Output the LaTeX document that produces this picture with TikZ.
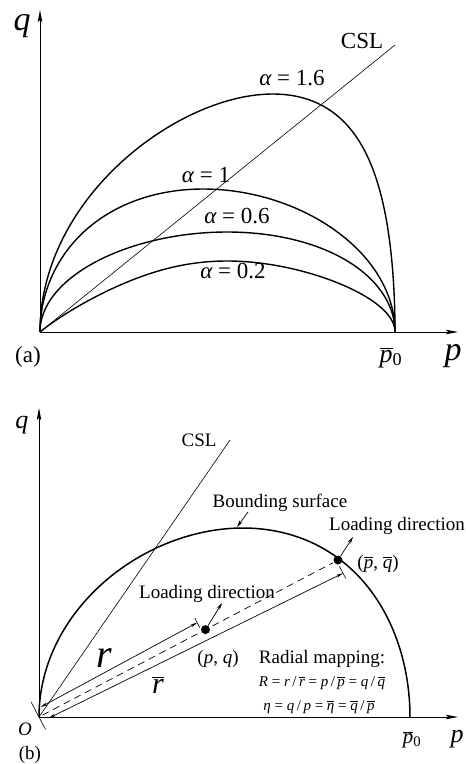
\documentclass[tikz,border=0pt]{standalone}
\usepackage{fontspec}
\setmainfont{Liberation Serif}
\newfontfamily\mi{Liberation Serif Italic}
\usetikzlibrary{arrows.meta}
\newcommand{\vi}[1]{{\mi #1}}
\newcommand{\ob}[1]{\ensuremath{\overline{\mbox{\mi #1}}}}
\begin{document}
\begin{tikzpicture}[x=1pt,y=-1pt,
  axis/.style={line width=0.9pt,-{Stealth[length=12pt,width=4.5pt,inset=2pt]}},
  curve/.style={line width=1.4pt},
  csl/.style={line width=0.6pt},
  dimline/.style={line width=0.7pt,{Stealth[length=7pt,width=3pt]}-{Stealth[length=7pt,width=3pt]}},
  tickline/.style={line width=0.6pt},
  radial/.style={line width=0.7pt,dash pattern=on 7pt off 5pt},
  pointer/.style={line width=0.7pt,-{Stealth[length=7pt,width=3.5pt]}},
  dot/.style={circle,fill=black,inner sep=0pt,minimum size=9pt},
  lbl/.style={inner sep=0pt,anchor=base},
  fa/.style={lbl,font=\fontsize{23}{23}\selectfont},
  fap/.style={lbl,font=\fontsize{26}{26}\selectfont},
  fabig/.style={lbl,font=\fontsize{34}{34}\selectfont},
  fb/.style={lbl,font=\fontsize{19}{19}\selectfont},
  fbp/.style={lbl,font=\fontsize{21}{21}\selectfont},
  fbax/.style={lbl,font=\fontsize{26}{26}\selectfont},
  feq/.style={lbl,font=\fontsize{15}{15}\selectfont},
  fr/.style={lbl,font=\fontsize{40}{40}\selectfont},
  frb/.style={lbl,font=\fontsize{30}{30}\selectfont}]
\useasboundingbox (0,0) rectangle (466,764);

% ---------------- panel (a) ----------------
\coordinate (Oa) at (40,332);
\coordinate (Ya) at (40,10);
\coordinate (Xa) at (458,332);
\coordinate (Ca) at (395,45);
\draw[axis] (Oa) -- (Ya);
\draw[axis] (Oa) -- (Xa);
\draw[csl] (Oa) -- (Ca);

\draw[curve] plot[domain=0:180,samples=150,variable=\t]
  ({40+355*((1-cos(\t))/2+0.156*sin(\t)*sin(\t))},{332-238*sin(\t)});
\draw[curve] plot[domain=0:180,samples=150,variable=\t]
  ({40+355*((1-cos(\t))/2-0.04*sin(\t)*sin(\t))},{332-143*sin(\t)});
\draw[curve] plot[domain=0:180,samples=150,variable=\t]
  ({40+355*((1-cos(\t))/2+0.027*sin(\t)*sin(\t))},{332-100*sin(\t)});
\draw[curve] plot[domain=0:180,samples=150,variable=\t]
  ({40+355*((1-cos(\t))/2+0.247*sin(\t)*(1+cos(\t))/2-0.0965*sin(\t)*sin(\t))},{332-71*sin(\t)});

\node[fabig] (qa) at (22,30) {\vi{q}};
\node[fabig] (pa) at (453,360) {\vi{p}};
\node[fap] (p0a) at (391,362) {\ob{p}\textsubscript{0}};
\node[fa] (la) at (28,362) {(a)};
\node[fa] (csla) at (362,48) {CSL};
\node[fa] (a16) at (292,85) {\vi{α} = 1.6};
\node[fa] (a10) at (206,182) {\vi{α} = 1};
\node[fa] (a06) at (237,223) {\vi{α} = 0.6};
\node[fa] (a02) at (233,278) {\vi{α} = 0.2};

% ---------------- panel (b) ----------------
\coordinate (Ob) at (39,717);
\coordinate (Yb) at (39,408);
\coordinate (Xb) at (458,717);
\coordinate (Cb) at (230,440);
\draw[axis] (Ob) -- (Yb);
\draw[axis] (Ob) -- (Xb);
\draw[csl] (Ob) -- (Cb);

\draw[curve,line width=1.5pt] plot[domain=0:180,samples=150,variable=\t]
  ({39+371*((1-cos(\t))/2+0.05*sin(\t)*sin(\t))},{717-189*sin(\t)});

% points on the radial line
\node[dot] (P) at (205.5,629.6) {};
\node[dot] (Pb) at (338,560) {};

% radial dashed line
\coordinate (R0) at (42.5,715.1);
\coordinate (R1) at (333,562.7);
\draw[radial] (R0) -- (R1);

% r dimension line
\coordinate (rs) at (40.6,707.1);
\coordinate (re) at (197.3,622.6);
\draw[dimline] (rs) -- (re);
\coordinate (t1a) at (200.0,628.0);
\coordinate (t1b) at (194.9,618.2);
\draw[tickline] (t1a) -- (t1b);

% r-bar dimension line
\coordinate (rbs) at (48.6,718.2);
\coordinate (rbe) at (343.0,573.2);
\draw[dimline] (rbs) -- (rbe);
\coordinate (t2a) at (339.3,566.1);
\coordinate (t2b) at (345.8,578.5);
\draw[tickline] (t2a) -- (t2b);

% tick at origin
\coordinate (t0a) at (31.1,702);
\coordinate (t0b) at (45.5,729.4);
\draw[tickline] (t0a) -- (t0b);

% loading directions
\coordinate (ld1) at (222,603);
\coordinate (ld2) at (353,537);
\draw[pointer] (P) -- (ld1);
\draw[pointer] (Pb) -- (ld2);

% bounding surface pointer
\coordinate (bs0) at (248,512);
\coordinate (bs1) at (237,527);
\draw[pointer] (bs0) -- (bs1);

\node[fbax] (qb) at (22,428) {\vi{q}};
\node[fbax] (pb) at (457,742) {\vi{p}};
\node[fbp] (p0b) at (412,743) {\ob{p}\textsubscript{0}};
\node[fb] (Olab) at (25,735) {\vi{O}};
\node[fb] (lb) at (30,759) {(b)};
\node[fb] (cslb) at (199,446) {CSL};
\node[fb] (bsl) at (280,507) {Bounding surface};
\node[fb] (ldt) at (397,530) {Loading direction};
\node[fb] (pbl) at (378,568) {(\ob{p}, \ob{q})};
\node[fb] (ldl) at (207,598) {Loading direction};
\node[fr] (rl) at (104,667) {\vi{r}};
\node[frb] (rbl) at (158,693) {\ob{r}};
\node[fb] (pql) at (218,663) {(\vi{p}, \vi{q})};
\node[fb] (rm) at (322,663) {Radial mapping:};
\node[feq] (eq1) at (322,686) {\vi{R} = \vi{r}\,/\,\ob{r} = \vi{p}\,/\,\ob{p} = \vi{q}\,/\,\ob{q}};
\node[feq] (eq2) at (319,710) {\vi{η} = \vi{q}\,/\,\vi{p} = \ob{η} = \ob{q}\,/\,\ob{p}};
\end{tikzpicture}
\end{document}
